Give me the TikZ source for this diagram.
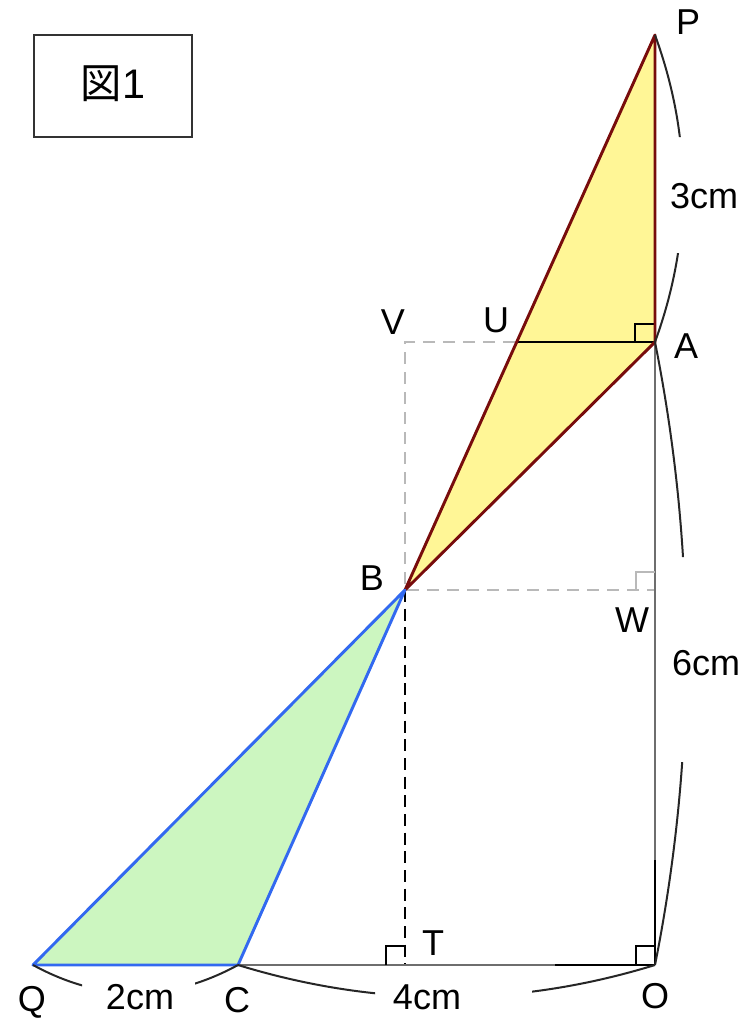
\documentclass[tikz,border=0pt]{standalone}
\usepackage{fontspec}
\setmainfont{Liberation Sans}
\newfontfamily\cjk{Noto Sans CJK JP}
\usetikzlibrary{calc}
\definecolor{fillY}{RGB}{255,246,150}
\definecolor{fillG}{RGB}{204,246,192}
\definecolor{edgeR}{RGB}{120,12,12}
\definecolor{edgeB}{RGB}{50,105,240}
\definecolor{lineG}{RGB}{110,110,110}
\definecolor{dashG}{RGB}{185,185,185}
\begin{document}
\begin{tikzpicture}[x=0.75pt,y=-0.75pt,
  lbl/.style={font=\fontsize{27}{27}\selectfont, inner sep=0pt},
  redge/.style={draw=edgeR, line width=2.2pt, line join=round},
  bedge/.style={draw=edgeB, line width=2.2pt, line join=round},
  plain/.style={draw=lineG, line width=1.8pt},
  blk/.style={draw=black, line width=1.8pt},
  gdash/.style={draw=dashG, line width=1.5pt, dash pattern=on 9pt off 6pt},
  bdash/.style={draw=black, line width=1.5pt, dash pattern=on 9pt off 5pt},
  brk/.style={draw=black!85, line width=1.5pt},
  rmark/.style={draw=black, line width=1.3pt},
  gmark/.style={draw=dashG, line width=1.3pt}]
\useasboundingbox (0,0) rectangle (756,1036);
% points
\coordinate (P) at (655,35);
\coordinate (A) at (655,342);
\coordinate (U) at (517,342);
\coordinate (V) at (405,342);
\coordinate (B) at (405,590);
\coordinate (W) at (655,590);
\coordinate (T) at (405,965);
\coordinate (O) at (655,965);
\coordinate (C) at (238,965);
\coordinate (Q) at (33,965);
% title box
\node[draw=black!80, line width=1.5pt, minimum width=118pt, minimum height=76pt, inner sep=0pt] (title) at (113,86) {};
\node[font=\fontsize{31}{31}\selectfont, inner sep=0pt] (ttext) at (113,84) {{\cjk 図}1};
% fills
\fill[fillY] (P) -- (A) -- (B) -- cycle;
\fill[fillG] (B) -- (Q) -- (C) -- cycle;
% gray dashed
\draw[gdash] (A) -- (V) -- (B) -- (W);
% black dashed
\draw[bdash] (B) -- (T);
% plain lines
\draw[plain] (A) -- (O);
\draw[plain] (C) -- (O);
\draw[blk] (O) -- ++(0,-105);
\draw[blk] (O) -- ++(-100,0);
\draw[blk] (U) -- (A);
% right angle marks
\draw[rmark] ($(A)+(-20,0)$) -- ++(0,-18) -- ++(20,0);
\draw[rmark] ($(O)+(-19,0)$) -- ++(0,-19) -- ++(19,0);
\draw[rmark] ($(T)+(-19,0)$) -- ++(0,-19) -- ++(19,0);
\draw[gmark] ($(W)+(-19,0)$) -- ++(0,-18) -- ++(19,0);
% triangles
\draw[redge] (P) -- (A) -- (B) -- cycle;
\draw[bedge] (B) -- (Q) -- (C) -- cycle;
% brackets
\begin{scope}
\clip (600,0) rectangle (756,137) (600,253) rectangle (756,400);
\draw[brk] (P) .. controls (692.3,137.3) and (692.3,239.7) .. (A);
\end{scope}
\begin{scope}
\clip (600,330) rectangle (756,557) (600,762) rectangle (756,990);
\draw[brk] (A) .. controls (696.3,549.7) and (696.3,757.3) .. (O);
\end{scope}
\begin{scope}
\clip (225,950) rectangle (375,1036) (532,950) rectangle (680,1036);
\draw[brk] (C) .. controls (377,1007.7) and (516,1007.7) .. (O);
\end{scope}
\begin{scope}
\clip (20,950) rectangle (82,1036) (195,950) rectangle (250,1036);
\draw[brk] (Q) .. controls (101.3,1002.3) and (169.7,1002.3) .. (C);
\end{scope}
% labels
\node[lbl] (lP) at (688,22) {P};
\node[lbl] (lA) at (686,346) {A};
\node[lbl] (lU) at (496,320) {U};
\node[lbl] (lV) at (393,322) {V};
\node[lbl] (lB) at (372,578) {B};
\node[lbl] (lW) at (632,620) {W};
\node[lbl] (lT) at (433,943) {T};
\node[lbl] (lO) at (655,996) {O};
\node[lbl] (lC) at (237,1000) {C};
\node[lbl] (lQ) at (32,1002) {Q};
\node[lbl] (l3) at (704,196) {3cm};
\node[lbl] (l6) at (706,663) {6cm};
\node[lbl] (l4) at (427,997) {4cm};
\node[lbl] (l2) at (140,997) {2cm};
\end{tikzpicture}
\end{document}
